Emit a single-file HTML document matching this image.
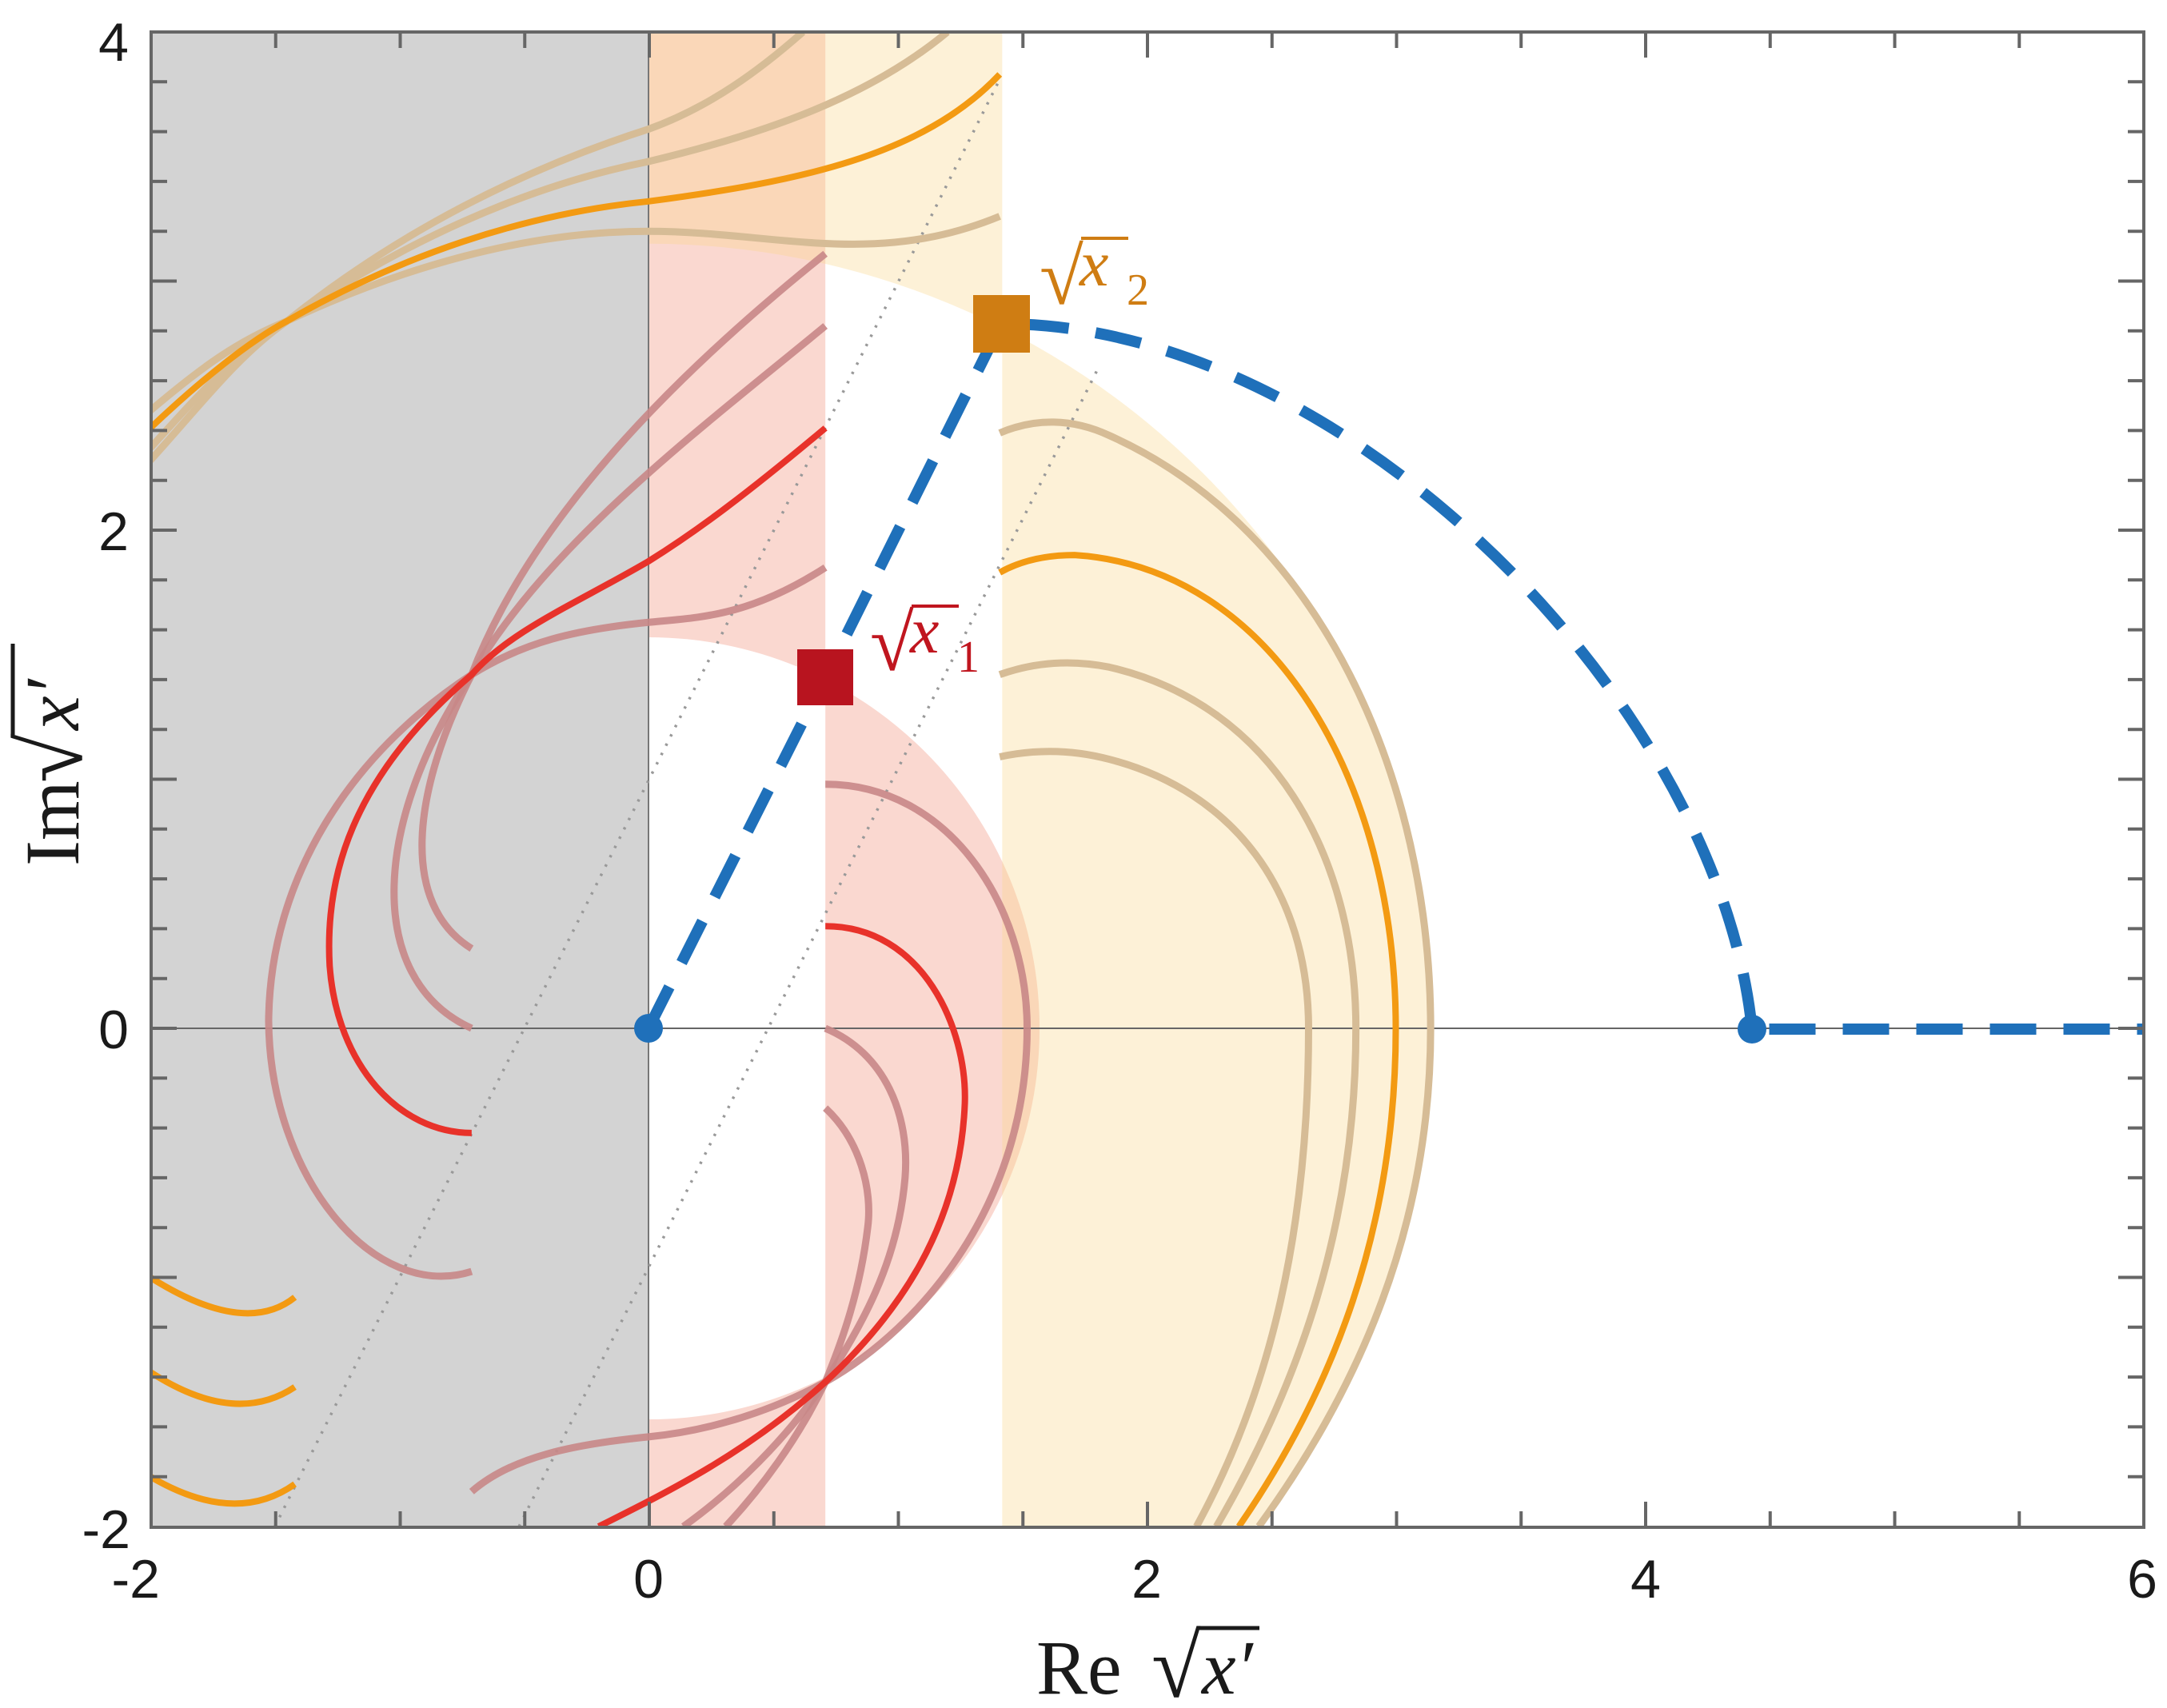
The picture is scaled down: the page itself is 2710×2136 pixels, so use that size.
<!DOCTYPE html>
<html><head><meta charset="utf-8"><style>html,body{margin:0;padding:0;background:#fff;width:2710px;height:2136px;overflow:hidden}svg{display:block}</style></head>
<body>
<svg width="2710" height="2136" viewBox="0 0 2710 2136" xmlns="http://www.w3.org/2000/svg">
<defs>
<clipPath id="plot"><rect x="189" y="40" width="2492" height="1870"/></clipPath>
<clipPath id="s1"><rect x="0" y="-2" width="0.71" height="6"/></clipPath>
<clipPath id="s2"><rect x="0.71" y="-2" width="1.5" height="6"/></clipPath>
<clipPath id="s3"><rect x="0" y="-2" width="1.42" height="6"/></clipPath>
<clipPath id="s4"><rect x="1.42" y="-2" width="3" height="6"/></clipPath>
</defs>
<g clip-path="url(#plot)">
<g transform="matrix(311.5 0 0 -311.5 811 1286)">
  <g fill="rgb(235,110,80)" fill-opacity="0.27">
    <path clip-path="url(#s1)" fill-rule="evenodd" d="M-3,-3 H7 V5 H-3 Z M1.57,0 A1.57,1.57 0 1 0 -1.57,0 A1.57,1.57 0 1 0 1.57,0 Z"/>
    <circle clip-path="url(#s2)" cx="0" cy="0" r="1.57"/>
  </g>
  <g fill="rgb(249,215,140)" fill-opacity="0.35">
    <path clip-path="url(#s3)" fill-rule="evenodd" d="M-3,-3 H7 V5 H-3 Z M3.15,0 A3.15,3.15 0 1 0 -3.15,0 A3.15,3.15 0 1 0 3.15,0 Z"/>
    <circle clip-path="url(#s4)" cx="0" cy="0" r="3.15"/>
  </g>
  <rect x="-2" y="-2" width="2" height="6" fill="#d3d3d3"/>
  <line x1="-2" y1="0" x2="6" y2="0" stroke="#666" stroke-width="2" vector-effect="non-scaling-stroke"/>
  <line x1="0" y1="-2" x2="0" y2="4" stroke="#777" stroke-width="2" vector-effect="non-scaling-stroke"/>
  <g stroke="#999" stroke-width="3.5" stroke-dasharray="3 10" fill="none">
    <line x1="-1.5" y1="-2" x2="1.41" y2="3.81" vector-effect="non-scaling-stroke"/>
    <line x1="-0.52" y1="-2" x2="1.8" y2="2.64" vector-effect="non-scaling-stroke"/>
  </g>
  <g fill="none" stroke="rgb(200,135,135)" stroke-width="9" stroke-opacity="0.9">
    <path vector-effect="non-scaling-stroke" d="M0.71,3.11 C0.2,2.7 -0.45,2.1 -0.71,1.42 C-0.95,0.95 -1.0,0.5 -0.71,0.32"/>
    <path vector-effect="non-scaling-stroke" d="M0.71,2.82 C0.2,2.4 -0.4,1.95 -0.71,1.42 C-1.1,0.85 -1.15,0.2 -0.71,0.0"/>
    <path vector-effect="non-scaling-stroke" d="M0.71,1.85 C0.4,1.65 0.2,1.65 0,1.63 C-0.3,1.6 -0.5,1.55 -0.71,1.42 C-1.2,1.1 -1.52,0.6 -1.525,0.03 C-1.52,-0.6 -1.1,-1.1 -0.71,-0.976"/>
    <path vector-effect="non-scaling-stroke" d="M0.71,0.98 C1.2,0.98 1.52,0.5 1.52,0 C1.52,-0.7 1.1,-1.2 0.71,-1.42 C0.45,-1.56 0.2,-1.62 0,-1.64 C-0.3,-1.67 -0.55,-1.72 -0.71,-1.86"/>
    <path vector-effect="non-scaling-stroke" d="M0.71,0 C0.95,-0.1 1.05,-0.35 1.03,-0.6 C1.0,-0.95 0.85,-1.2 0.71,-1.42 C0.55,-1.65 0.35,-1.85 0.14,-2"/>
    <path vector-effect="non-scaling-stroke" d="M0.71,-0.32 C0.85,-0.45 0.9,-0.65 0.88,-0.8 C0.85,-1.05 0.78,-1.25 0.71,-1.42 C0.6,-1.65 0.45,-1.85 0.31,-2"/>
  </g>
  <g fill="none" stroke="#e8322a" stroke-width="8">
    <path vector-effect="non-scaling-stroke" d="M0.71,2.41 C0.4,2.15 0.2,2.0 0,1.875 C-0.3,1.7 -0.55,1.6 -0.71,1.42 C-1.2,1.0 -1.3,0.6 -1.28,0.25 C-1.25,-0.15 -1.0,-0.42 -0.71,-0.42"/>
    <path vector-effect="non-scaling-stroke" d="M0.71,0.41 C1.1,0.41 1.28,0 1.27,-0.3 C1.25,-0.8 1.0,-1.15 0.71,-1.42 C0.4,-1.7 0.1,-1.85 -0.2,-2"/>
  </g>
  <g fill="none" stroke="rgb(214,188,150)" stroke-width="9">
    <path vector-effect="non-scaling-stroke" d="M-2,2.28 C-1.8,2.5 -1.65,2.7 -1.45,2.84 C-1.0,3.2 -0.5,3.45 0,3.61 C0.25,3.7 0.45,3.85 0.62,4"/>
    <path vector-effect="non-scaling-stroke" d="M-2,2.33 C-1.8,2.55 -1.65,2.72 -1.45,2.84 C-1.0,3.15 -0.5,3.38 0,3.48 C0.5,3.6 0.9,3.75 1.2,4"/>
    <path vector-effect="non-scaling-stroke" d="M-2,2.48 C-1.8,2.65 -1.65,2.76 -1.45,2.84 C-1.0,3.05 -0.5,3.2 0,3.2 C0.5,3.2 0.9,3.05 1.41,3.26"/>
    <path vector-effect="non-scaling-stroke" d="M1.41,2.39 C1.55,2.45 1.7,2.45 1.85,2.38 C2.7,2.0 3.14,1.0 3.14,0 C3.14,-0.8 2.85,-1.45 2.45,-2"/>
    <path vector-effect="non-scaling-stroke" d="M1.41,1.42 C1.55,1.47 1.7,1.48 1.85,1.45 C2.5,1.3 2.84,0.7 2.84,0 C2.84,-0.8 2.6,-1.45 2.28,-2"/>
    <path vector-effect="non-scaling-stroke" d="M1.41,1.09 C1.55,1.12 1.7,1.12 1.85,1.08 C2.35,0.95 2.65,0.55 2.65,0 C2.65,-0.8 2.5,-1.45 2.2,-2"/>
  </g>
  <g fill="none" stroke="#f39a12" stroke-width="8">
    <path vector-effect="non-scaling-stroke" d="M-2,2.41 C-1.8,2.6 -1.6,2.76 -1.45,2.84 C-1.0,3.1 -0.5,3.27 0,3.32 C0.6,3.4 1.1,3.5 1.41,3.83"/>
    <path vector-effect="non-scaling-stroke" d="M1.41,1.83 C1.5,1.88 1.6,1.9 1.71,1.9 C2.5,1.85 3.0,1.0 3.0,0 C3.0,-0.8 2.75,-1.45 2.37,-2"/>
    <path vector-effect="non-scaling-stroke" d="M-2,-1.0 Q-1.62,-1.24 -1.42,-1.08"/>
    <path vector-effect="non-scaling-stroke" d="M-2,-1.38 Q-1.66,-1.6 -1.42,-1.44"/>
    <path vector-effect="non-scaling-stroke" d="M-2,-1.80 Q-1.66,-2.0 -1.42,-1.83"/>
  </g>
</g>
<path d="M811,1286 L1032,847 L1252,405 C1683,404 2150,881 2191,1287 L2681,1287" fill="none" stroke="#1f70ba" stroke-width="14" stroke-dasharray="58 34"/>
<circle cx="811" cy="1286" r="18" fill="#1f70ba"/>
<circle cx="2191" cy="1287" r="18" fill="#1f70ba"/>
<rect x="997" y="812" width="70" height="70" fill="#b8141f"/>
<rect x="1217" y="369" width="71" height="72" fill="#cf7d13"/>
</g>
<rect x="189" y="40" width="2492" height="1870" fill="none" stroke="#666" stroke-width="4"/>
<g stroke="#666" stroke-width="4">
<path d="M344.75,1910v-20M500.5,1910v-20M656.25,1910v-20M967.75,1910v-20M1123.5,1910v-20M1279.25,1910v-20M1590.75,1910v-20M1746.5,1910v-20M1902.25,1910v-20M2213.75,1910v-20M2369.5,1910v-20M2525.25,1910v-20
M812,1910v-32M1435,1910v-32M2058,1910v-32
M344.75,40v20M500.5,40v20M656.25,40v20M967.75,40v20M1123.5,40v20M1279.25,40v20M1590.75,40v20M1746.5,40v20M1902.25,40v20M2213.75,40v20M2369.5,40v20M2525.25,40v20
M812,40v32M1435,40v32M2058,40v32"/>
<path d="M189,102.3h20M189,164.6h20M189,226.9h20M189,289.2h20M189,413.8h20M189,476.1h20M189,538.4h20M189,600.7h20M189,725.3h20M189,787.6h20M189,849.9h20M189,912.2h20M189,1036.8h20M189,1099.1h20M189,1161.4h20M189,1223.7h20M189,1348.3h20M189,1410.6h20M189,1472.9h20M189,1535.2h20M189,1659.8h20M189,1722.1h20M189,1784.4h20M189,1846.7h20
M189,351.5h32M189,663h32M189,974.5h32M189,1286h32M189,1597.5h32"/>
<path d="M2681,102.3h-20M2681,164.6h-20M2681,226.9h-20M2681,289.2h-20M2681,413.8h-20M2681,476.1h-20M2681,538.4h-20M2681,600.7h-20M2681,725.3h-20M2681,787.6h-20M2681,849.9h-20M2681,912.2h-20M2681,1036.8h-20M2681,1099.1h-20M2681,1161.4h-20M2681,1223.7h-20M2681,1348.3h-20M2681,1410.6h-20M2681,1472.9h-20M2681,1535.2h-20M2681,1659.8h-20M2681,1722.1h-20M2681,1784.4h-20M2681,1846.7h-20
M2681,351.5h-32M2681,663h-32M2681,974.5h-32M2681,1286h-32M2681,1597.5h-32"/>
</g>
<g font-family="Liberation Sans, sans-serif" font-size="68" fill="#1a1a1a">
<g text-anchor="end">
<text x="161" y="76">4</text>
<text x="161" y="688">2</text>
<text x="161" y="1311">0</text>
<text x="163" y="1936">-2</text>
<text x="200" y="1998">-2</text>
</g>
<g text-anchor="middle">
<text x="811" y="1998">0</text>
<text x="1434" y="1998">2</text>
<text x="2058" y="1998">4</text>
<text x="2679" y="1998">6</text>
</g>
</g>
<g font-family="Liberation Serif, serif" fill="#1a1a1a">
<text x="1296" y="2118" font-size="96">Re</text>
<text x="1440" y="2122" font-size="112">√</text>
<line x1="1500" y1="2036" x2="1575" y2="2036" stroke="#1a1a1a" stroke-width="5"/>
<text x="1503" y="2118" font-size="96" font-style="italic">x′</text>
<g transform="translate(98,1083) rotate(-90)">
<text x="0" y="0" font-size="96">Im</text>
<text x="104" y="4" font-size="112">√</text>
<line x1="164" y1="-82" x2="278" y2="-82" stroke="#1a1a1a" stroke-width="5"/>
<text x="170" y="0" font-size="96" font-style="italic">x′</text>
</g>
</g>
<g font-family="Liberation Serif, serif">
<g fill="#c0161f">
<text x="1088" y="838" font-size="100">√</text>
<line x1="1140" y1="758" x2="1199" y2="758" stroke="#c0161f" stroke-width="4"/>
<text x="1138" y="816" font-size="82" font-style="italic">x</text>
<text x="1197" y="840" font-size="56">1</text>
</g>
<g fill="#cf7d13">
<text x="1300" y="380" font-size="100">√</text>
<line x1="1352" y1="298" x2="1411" y2="298" stroke="#cf7d13" stroke-width="4"/>
<text x="1350" y="357" font-size="82" font-style="italic">x</text>
<text x="1409" y="381" font-size="56">2</text>
</g>
</g>
</svg>
</body></html>
